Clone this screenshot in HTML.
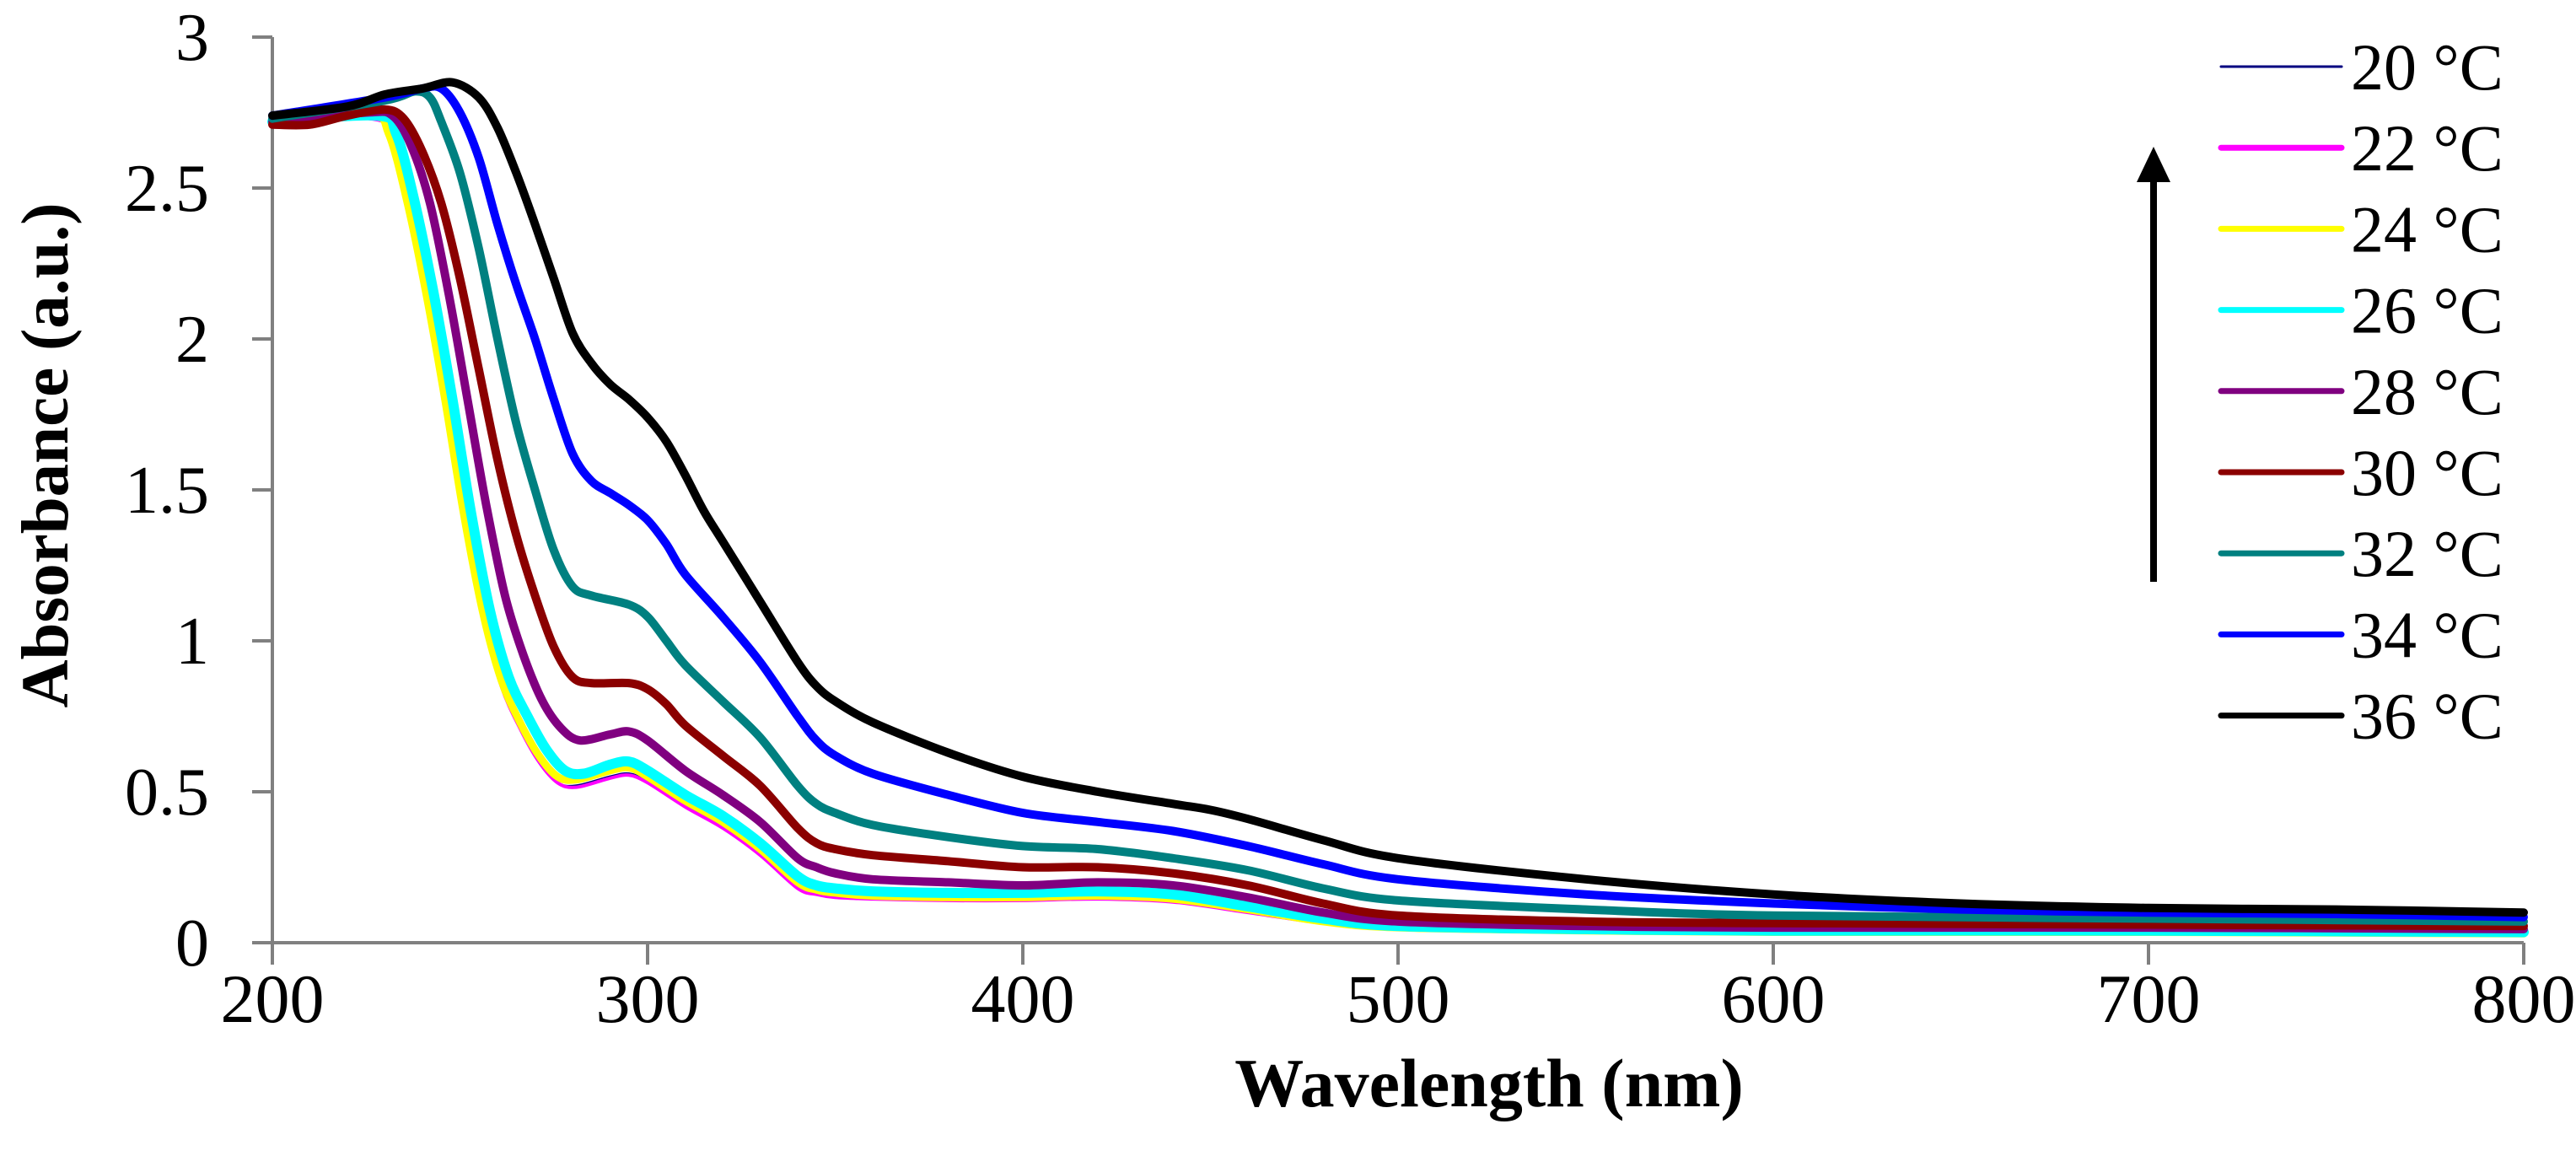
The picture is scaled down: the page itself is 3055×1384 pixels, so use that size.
<!DOCTYPE html>
<html><head><meta charset="utf-8"><style>
html,body{margin:0;padding:0;background:#fff;width:3055px;height:1384px;overflow:hidden}
svg text{font-family:"Liberation Serif",serif;fill:#000}
</style></head><body>
<svg id="chart" width="3055" height="1384" viewBox="0 0 3055 1384" xmlns="http://www.w3.org/2000/svg">
<g id="axes"></g>
<g id="series"></g>
<g id="legend"></g>
<g>
<line x1="2554" y1="690" x2="2554" y2="210" stroke="#000" stroke-width="8"/>
<polygon points="2554,174 2534,216 2574,216" fill="#000"/>
</g>
<text x="1766" y="1312" font-size="82" font-weight="bold" text-anchor="middle">Wavelength (nm)</text>
<text transform="translate(80,540) rotate(-90)" font-size="79" font-weight="bold" text-anchor="middle">Absorbance (a.u.)</text>
</svg>
<script>
const xTicks = [200,300,400,500,600,700,800];
const yTicks = [0,0.5,1,1.5,2,2.5,3];
const yTickLabels = ["0","0.5","1","1.5","2","2.5","3"];
const seriesNames = ["20 °C","22 °C","24 °C","26 °C","28 °C","30 °C","32 °C","34 °C","36 °C"];
const seriesColors = ["#000080","#ff00ff","#ffff00","#00ffff","#800080","#8b0000","#008080","#0000ff","#000000"];
const seriesWidths = [3,4,9,12,10,10,10,10,10];

const wlLow = [200,226,231,236,241,246,251,256,261,266,271,276,281,290,295,300,310,320,330,340,345,350,360,380,400,420,440,460,480,500,550,600,700,800];
const abs20 = [2.71,2.73,2.67,2.44,2.13,1.78,1.40,1.08,0.85,0.71,0.60,0.53,0.52,0.55,0.56,0.535,0.455,0.385,0.295,0.185,0.165,0.155,0.15,0.145,0.145,0.15,0.14,0.105,0.068,0.048,0.038,0.033,0.033,0.03];
const abs22 = [2.71,2.73,2.67,2.44,2.13,1.78,1.40,1.08,0.85,0.71,0.60,0.53,0.515,0.545,0.555,0.53,0.45,0.38,0.29,0.18,0.16,0.15,0.145,0.14,0.14,0.145,0.135,0.10,0.065,0.045,0.035,0.03,0.03,0.03];
const abs24 = [2.72,2.74,2.68,2.45,2.15,1.80,1.42,1.10,0.87,0.73,0.62,0.55,0.54,0.57,0.58,0.55,0.47,0.40,0.31,0.20,0.175,0.165,0.155,0.15,0.15,0.155,0.145,0.11,0.07,0.05,0.04,0.035,0.035,0.03];
const wl26 = [200,228,233,238,243,248,253,258,263,268,273,278,283,290,295,300,310,320,330,340,345,350,360,380,400,420,440,460,480,500,550,600,700,800];
const abs26 = [2.72,2.74,2.68,2.45,2.15,1.80,1.42,1.10,0.88,0.75,0.64,0.57,0.56,0.59,0.60,0.57,0.49,0.42,0.33,0.22,0.19,0.18,0.17,0.165,0.165,0.17,0.16,0.12,0.08,0.055,0.045,0.04,0.04,0.035];
const wl28 = [200,225,232,237,242,247,252,257,262,267,272,277,282,290,295,300,310,320,330,340,345,350,360,380,400,420,440,460,480,500,550,600,700,800];
const abs28 = [2.72,2.75,2.74,2.64,2.45,2.15,1.80,1.45,1.15,0.95,0.80,0.71,0.67,0.69,0.70,0.67,0.57,0.49,0.40,0.28,0.25,0.23,0.21,0.20,0.19,0.20,0.19,0.15,0.10,0.07,0.055,0.05,0.05,0.045];
const wl30 = [200,210,220,230,235,240,245,250,255,260,265,270,275,280,285,295,300,305,310,320,330,340,345,350,360,380,400,420,440,460,480,500,550,600,700,800];
const abs30 = [2.71,2.71,2.74,2.76,2.73,2.62,2.45,2.20,1.90,1.60,1.35,1.15,0.98,0.88,0.86,0.86,0.84,0.79,0.72,0.62,0.52,0.38,0.33,0.31,0.29,0.27,0.25,0.25,0.23,0.19,0.13,0.09,0.07,0.065,0.06,0.055];
const wl32 = [200,230,238,242,245,250,255,260,265,270,275,280,285,295,300,305,310,320,330,340,345,350,360,380,400,420,440,460,480,500,550,600,700,800];
const abs32 = [2.73,2.79,2.82,2.80,2.72,2.55,2.30,2.00,1.72,1.50,1.30,1.18,1.15,1.12,1.08,1.00,0.92,0.80,0.68,0.52,0.46,0.43,0.39,0.35,0.32,0.31,0.28,0.24,0.18,0.14,0.11,0.09,0.08,0.07];
const wl34 = [200,230,240,245,250,255,260,265,270,275,280,285,290,295,300,305,310,320,330,340,345,350,360,380,400,420,440,460,480,500,550,600,650,700,750,800];
const abs34 = [2.74,2.80,2.83,2.83,2.75,2.60,2.38,2.18,2.00,1.80,1.62,1.53,1.49,1.45,1.40,1.32,1.22,1.08,0.93,0.75,0.67,0.62,0.56,0.49,0.43,0.40,0.37,0.32,0.26,0.21,0.16,0.13,0.11,0.10,0.095,0.085];
const wl36 = [200,220,230,240,248,255,260,265,270,275,280,285,290,295,300,305,310,315,320,330,340,345,350,360,380,400,420,440,450,460,480,500,550,600,650,700,750,800];
const abs36 = [2.74,2.77,2.81,2.83,2.85,2.80,2.70,2.55,2.38,2.20,2.02,1.92,1.85,1.80,1.74,1.66,1.55,1.43,1.33,1.13,0.93,0.85,0.80,0.73,0.63,0.55,0.50,0.46,0.44,0.41,0.34,0.28,0.21,0.16,0.13,0.115,0.11,0.10];

const seriesX = [wlLow,wlLow,wlLow,wl26,wl28,wl30,wl32,wl34,wl36];
const seriesY = [abs20,abs22,abs24,abs26,abs28,abs30,abs32,abs34,abs36];

const X0=323,X1=2993,Y0=1118,Y1=44;
function xs(v){return X0+(v-200)/600*(X1-X0);}
function ys(v){return Y0-(v/3)*(Y0-Y1);}
const NS="http://www.w3.org/2000/svg";
function mk(tag,attrs,parent){const e=document.createElementNS(NS,tag);for(const k in attrs)e.setAttribute(k,attrs[k]);parent.appendChild(e);return e;}

const axes=document.getElementById('axes');
let yAxis=mk('line',{x1:X0,y1:Y1,x2:X0,y2:Y0,stroke:'#808080','stroke-width':4},axes);


let xAxis=mk('line',{x1:X0,y1:Y0,x2:X1,y2:Y0,stroke:'#808080','stroke-width':4},axes);


yTicks.forEach((t,i)=>{
  const y=ys(t);
  let tk=mk('line',{x1:X0-24,y1:y,x2:X0,y2:y,stroke:'#808080','stroke-width':4},axes);
  
  
  let lb=mk('text',{x:248,y:y+27,'font-size':80,'text-anchor':'end'},axes);
  lb.textContent=yTickLabels[i];
  
  
});
xTicks.forEach(t=>{
  const x=xs(t);
  let tk=mk('line',{x1:x,y1:Y0,x2:x,y2:Y0+26,stroke:'#808080','stroke-width':4},axes);
  
  
  let lb=mk('text',{x:x,y:1212,'font-size':82,'text-anchor':'middle'},axes);
  lb.textContent=String(t);
  
  
});

function pathFor(xa,ya){
  const p=xa.map((v,i)=>[xs(v),ys(ya[i])]);
  let d='M'+p[0][0].toFixed(1)+','+p[0][1].toFixed(1);
  for(let i=0;i<p.length-1;i++){
    const p0=p[Math.max(0,i-1)],p1=p[i],p2=p[i+1],p3=p[Math.min(p.length-1,i+2)];
    const t=0.16;
    const c1=[p1[0]+(p2[0]-p0[0])*t,p1[1]+(p2[1]-p0[1])*t];
    const c2=[p2[0]-(p3[0]-p1[0])*t,p2[1]-(p3[1]-p1[1])*t];
    d+=' C'+c1[0].toFixed(1)+','+c1[1].toFixed(1)+' '+c2[0].toFixed(1)+','+c2[1].toFixed(1)+' '+p2[0].toFixed(1)+','+p2[1].toFixed(1);
  }
  return d;
}
const sg=document.getElementById('series');
const order=[0,1,2,3,4,5,6,7,8];
order.forEach(i=>{
  let pth=mk('path',{d:pathFor(seriesX[i],seriesY[i]),fill:'none',stroke:seriesColors[i],'stroke-width':seriesWidths[i],'stroke-linejoin':'round','stroke-linecap':'round'},sg);
  
  
});

const lg=document.getElementById('legend');
seriesNames.forEach((n,i)=>{
  const y=79+i*96.2;
  let ln=mk('line',{x1:2634,y1:y,x2:2777,y2:y,stroke:seriesColors[i],'stroke-width':i===0?3:7,'stroke-linecap':'round'},lg);
  
  
  let tx=mk('text',{x:2788,y:y+27,'font-size':78},lg);
  tx.textContent=n;
  
  
});
</script>
</body></html>
